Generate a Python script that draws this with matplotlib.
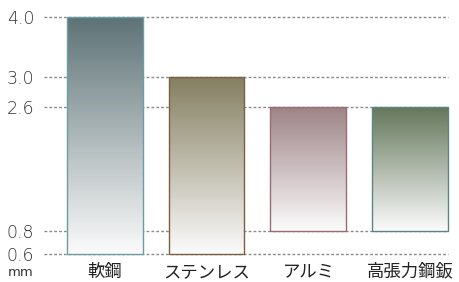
import numpy as np
import matplotlib.pyplot as plt
from matplotlib.colors import to_rgb

plt.rcParams['font.family'] = ['Noto Sans CJK JP', 'DejaVu Sans']

# data: thickness ranges (mm)
materials = ['軟鋼', 'ステンレス', 'アルミ', '高張力鋼鈑']
t_min = [0.6, 0.6, 0.8, 0.8]
t_max = [4.0, 3.0, 2.6, 2.6]
ticks = [0.6, 0.8, 2.6, 3.0, 4.0]
tick_labels = ['0.6', '0.8', '2.6', '3.0', '4.0']

top_colors = ['#5d7276', '#847e60', '#9c8286', '#63765a']
edge_colors = ['#6e9ca2', '#7a6040', '#9a6b74', '#5b8484']

# the chart uses an uneven axis: map values to pixel-ish heights
scale_v = [0.0, 0.6, 0.8, 2.6, 3.0, 4.0, 5.0]
scale_p = [-40.0, 0.0, 23.6, 147.5, 177.8, 237.3, 296.6]


def fwd(v):
    return np.interp(v, scale_v, scale_p)


def inv(p):
    return np.interp(p, scale_p, scale_v)


fig = plt.figure(figsize=(4.6, 2.82), dpi=100)
ax = fig.add_axes([44 / 460, 1 - 254.3 / 282, (448 - 44) / 460, (254.3 - 17) / 282])
ax.set_yscale('function', functions=(fwd, inv))
ax.set_ylim(0.6, 4.0)
ax.set_xlim(-0.595, 3.37)

# dotted guide lines
for t in ticks:
    ax.axhline(t, color='#8a8a8a', lw=1.0, ls=(0, (2, 1.5)), zorder=1, clip_on=False)

# bars with vertical gradient drawn as thin strips
width = 0.745
n = 120
for i in range(len(materials)):
    lo, hi = fwd(t_min[i]), fwd(t_max[i])
    edges = inv(np.linspace(lo, hi, n + 1))
    c_top = np.array(to_rgb(top_colors[i]))
    c_bot = np.array([0.985, 0.985, 0.985])
    for k in range(n):
        f = (k + 0.5) / n
        col = c_bot * (1 - f) + c_top * f
        ax.bar(i, edges[k + 1] - edges[k], bottom=edges[k], width=width,
               color=col, edgecolor='none', linewidth=0, zorder=2)
    ax.bar(i, t_max[i] - t_min[i], bottom=t_min[i], width=width,
           facecolor='none', edgecolor=edge_colors[i], linewidth=1.0, zorder=3,
           clip_on=False)

ax.set_yticks(ticks)
ax.set_yticklabels(tick_labels, fontsize=12.5, color='#333333', family='DejaVu Sans',
                   fontweight='light')
ax.yaxis.set_minor_locator(plt.NullLocator())
ax.tick_params(axis='y', length=0, pad=7)
ax.set_xticks(range(len(materials)))
ax.set_xticklabels(materials, fontsize=12.5, color='#222222')
ax.tick_params(axis='x', length=0, pad=6)

for s in ax.spines.values():
    s.set_visible(False)

fig.text(8 / 460, 1 - 273 / 282, 'mm', fontsize=9.5, color='#333333',
         family='DejaVu Sans', va='center', ha='left')

plt.savefig('out.png', dpi=100)
